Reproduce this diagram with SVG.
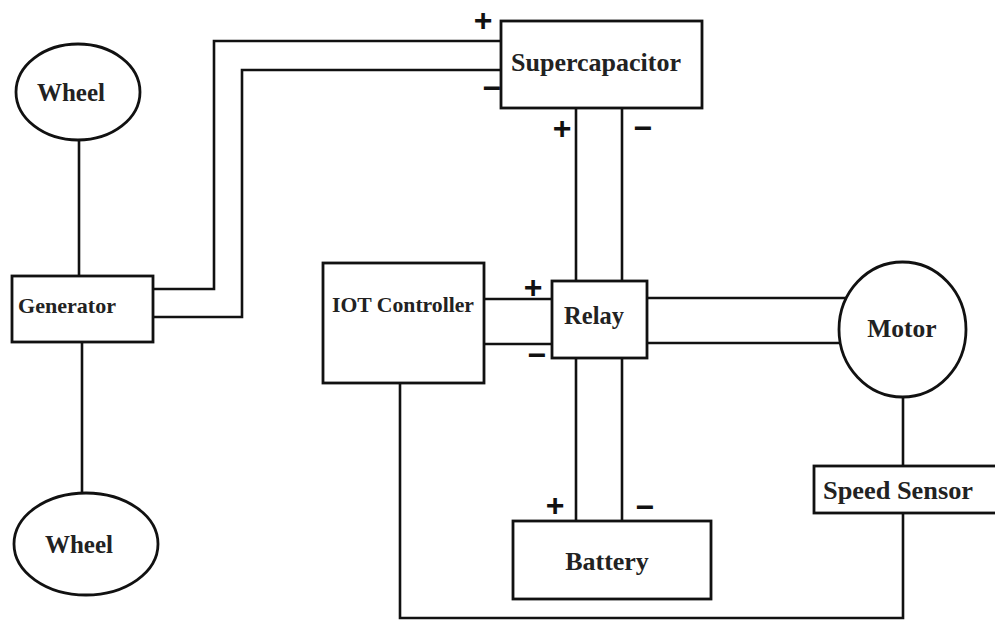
<svg xmlns="http://www.w3.org/2000/svg" width="995" height="620" viewBox="0 0 995 620">
<style>
.w{fill:none;stroke:#111;stroke-width:2.6;stroke-linecap:square;stroke-linejoin:miter}
.box{fill:#fff;stroke:#111;stroke-width:2.8}
.lbl{font-family:"Liberation Serif","Times New Roman",serif;font-weight:bold;fill:#222}
.sg{font-family:"Liberation Sans",Arial,sans-serif;font-weight:bold;font-size:32px;fill:#111;text-anchor:middle}
</style>
<rect width="995" height="620" fill="#fff"/>
<g id="connectors">
<line class="w" x1="79" y1="140" x2="79" y2="276"/>
<line class="w" x1="82" y1="342" x2="82" y2="493"/>
<polyline class="w" points="153,289 214,289 214,41 501,41"/>
<polyline class="w" points="153,317 242,317 242,70 501,70"/>
<line class="w" x1="576" y1="108" x2="576" y2="281"/>
<line class="w" x1="622" y1="108" x2="622" y2="281"/>
<line class="w" x1="484" y1="299" x2="552" y2="299"/>
<line class="w" x1="484" y1="344" x2="552" y2="344"/>
<line class="w" x1="647" y1="298" x2="846" y2="298"/>
<line class="w" x1="647" y1="343" x2="840" y2="343"/>
<line class="w" x1="576" y1="358" x2="576" y2="521"/>
<line class="w" x1="622" y1="358" x2="622" y2="521"/>
<line class="w" x1="903" y1="397" x2="903" y2="466"/>
<polyline class="w" points="903,513 903,618 400,618 400,383"/>
</g>
<g id="wheel-top">
<ellipse class="box" cx="78" cy="92" rx="62" ry="48"/>
<text class="lbl" x="71" y="101" font-size="25" text-anchor="middle">Wheel</text>
</g>
<g id="generator">
<rect class="box" x="12" y="276" width="141" height="66"/>
<text class="lbl" x="18" y="313" font-size="22" textLength="98" lengthAdjust="spacingAndGlyphs">Generator</text>
</g>
<g id="wheel-bottom">
<ellipse class="box" cx="86" cy="544" rx="72" ry="51"/>
<text class="lbl" x="79" y="553" font-size="25" text-anchor="middle">Wheel</text>
</g>
<g id="supercapacitor">
<rect class="box" x="501" y="21" width="201" height="87"/>
<text class="lbl" x="596" y="71" font-size="25" text-anchor="middle" textLength="170" lengthAdjust="spacingAndGlyphs">Supercapacitor</text>
<text class="sg" x="483" y="31">+</text>
<text class="sg" x="492" y="99">−</text>
<text class="sg" x="562" y="139">+</text>
<text class="sg" x="643" y="139">−</text>
</g>
<g id="iot-controller">
<rect class="box" x="323" y="263" width="161" height="120"/>
<text class="lbl" x="332" y="312" font-size="21.5" textLength="142" lengthAdjust="spacingAndGlyphs">IOT Controller</text>
</g>
<g id="relay">
<rect class="box" x="552" y="281" width="95" height="77"/>
<text class="lbl" x="594" y="324" font-size="24.5" text-anchor="middle">Relay</text>
<text class="sg" x="533" y="298">+</text>
<text class="sg" x="537" y="366">−</text>
</g>
<g id="motor">
<ellipse class="box" cx="902.5" cy="329.5" rx="63.5" ry="67.5"/>
<text class="lbl" x="902" y="337" font-size="25.5" text-anchor="middle">Motor</text>
</g>
<g id="speed-sensor">
<rect class="box" x="814" y="466" width="190" height="47"/>
<text class="lbl" x="823" y="499" font-size="25.5" textLength="150" lengthAdjust="spacingAndGlyphs">Speed Sensor</text>
</g>
<g id="battery">
<rect class="box" x="513" y="521" width="198" height="78"/>
<text class="lbl" x="607" y="570" font-size="26" text-anchor="middle">Battery</text>
<text class="sg" x="555" y="516">+</text>
<text class="sg" x="645" y="518">−</text>
</g>
</svg>
